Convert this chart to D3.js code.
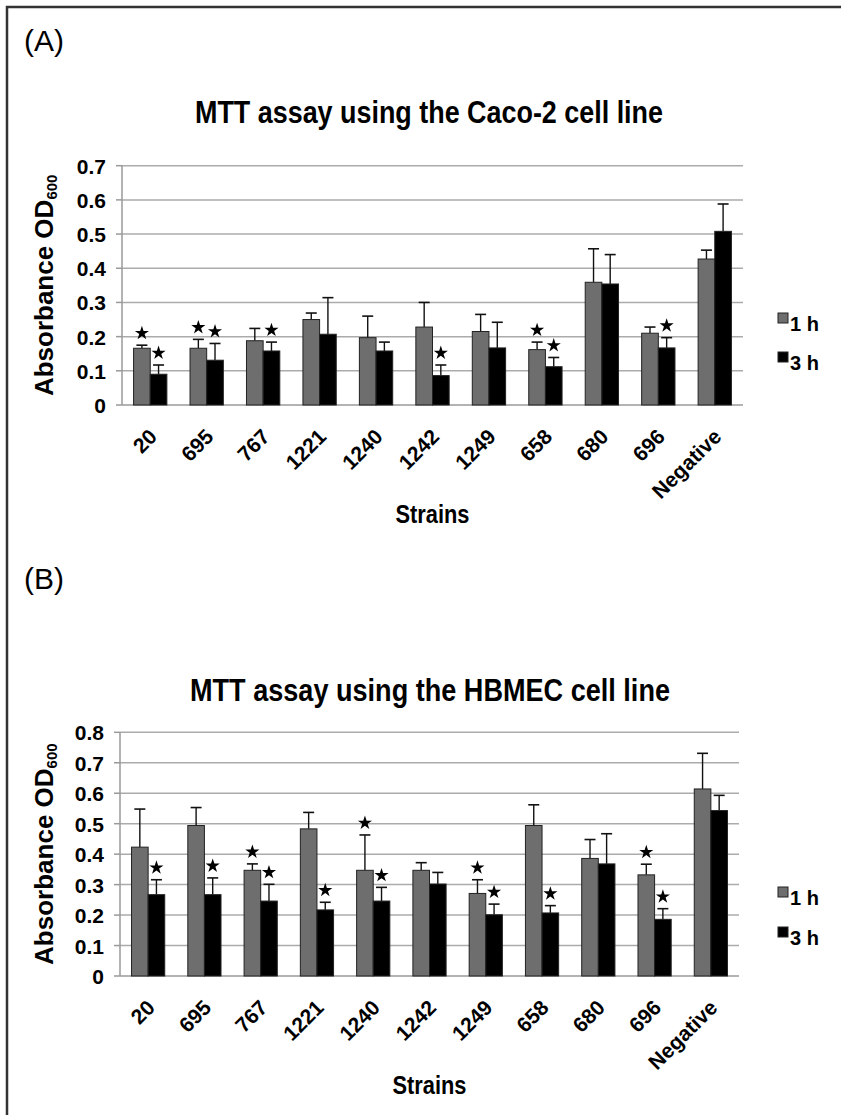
<!DOCTYPE html>
<html>
<head>
<meta charset="utf-8">
<script src="https://cdn.jsdelivr.net/npm/d3@7"></script>
<style>
  body { margin: 0; background: #fff; }
  svg { display: block; }
</style>
</head>
<body>
<svg id="figure" width="841" height="1115"></svg>
<script>
// strains on the x axis (same for both panels)
const strains = ['20', '695', '767', '1221', '1240', '1242', '1249', '658', '680', '696', 'Negative'];
const seriesNames = ['1 h', '3 h'];

// (A) Caco-2 : means and upper error (SD)
const caco1h = [0.166, 0.166, 0.188, 0.250, 0.197, 0.228, 0.215, 0.162, 0.359, 0.210, 0.427];
const caco1hErr = [0.009, 0.026, 0.036, 0.019, 0.063, 0.072, 0.050, 0.022, 0.098, 0.018, 0.026];
const caco3h = [0.090, 0.131, 0.158, 0.207, 0.158, 0.086, 0.167, 0.112, 0.354, 0.167, 0.508];
const caco3hErr = [0.027, 0.049, 0.026, 0.107, 0.026, 0.031, 0.075, 0.027, 0.086, 0.030, 0.080];
const caco1hStar = [1, 1, 0, 0, 0, 0, 0, 1, 0, 0, 0];
const caco3hStar = [1, 1, 1, 0, 0, 1, 0, 1, 0, 1, 0];
const cacoTicks = [0, 0.1, 0.2, 0.3, 0.4, 0.5, 0.6, 0.7];

// (B) HBMEC
const hbmec1h = [0.423, 0.494, 0.347, 0.483, 0.347, 0.347, 0.271, 0.494, 0.386, 0.332, 0.614];
const hbmec1hErr = [0.125, 0.059, 0.021, 0.054, 0.116, 0.025, 0.045, 0.068, 0.062, 0.035, 0.117];
const hbmec3h = [0.267, 0.267, 0.246, 0.217, 0.246, 0.302, 0.201, 0.207, 0.368, 0.186, 0.543];
const hbmec3hErr = [0.049, 0.055, 0.055, 0.025, 0.045, 0.038, 0.035, 0.024, 0.099, 0.035, 0.050];
const hbmec1hStar = [0, 0, 1, 0, 1, 0, 1, 0, 0, 1, 0];
const hbmec3hStar = [1, 1, 1, 1, 1, 0, 1, 1, 0, 1, 0];
const hbmecTicks = [0, 0.1, 0.2, 0.3, 0.4, 0.5, 0.6, 0.7, 0.8];

const FONT = "'Liberation Sans', Arial, Helvetica, sans-serif";
const colors = ['#6e6e6e', '#000000'];

class BarPanel {
  constructor(svg, box) {
    this.svg = svg;
    this.box = box;
    this.g = svg.append('g');

    this.x = d3.scaleBand()
      .domain(strains)
      .range([box.left, box.right])
      .paddingInner(0.41)
      .paddingOuter(0.205);

    this.xSub = d3.scaleBand()
      .domain(seriesNames)
      .range([0, this.x.bandwidth()]);

    this.y = d3.scaleLinear()
      .domain([0, d3.max(box.ticks)])
      .range([box.bottom, box.top]);
  }

  drawFrame() {
    const box = this.box;
    const fmt = (d) => (d === 0 ? '0' : d3.format('.1f')(d));

    this.g.selectAll('.grid')
      .data(box.ticks.filter((t) => t > 0))
      .join('line')
      .attr('x1', box.left)
      .attr('x2', box.right)
      .attr('y1', (d) => this.y(d))
      .attr('y2', (d) => this.y(d))
      .attr('stroke', '#ababab')
      .attr('stroke-width', 1.5);

    // left axis + outward ticks
    this.g.append('line')
      .attr('x1', box.left).attr('x2', box.left)
      .attr('y1', this.y(0)).attr('y2', this.y(d3.max(box.ticks)))
      .attr('stroke', '#9a9a9a')
      .attr('stroke-width', 1.5);

    this.g.selectAll('.ytick')
      .data(box.ticks)
      .join('line')
      .attr('x1', box.left - 6)
      .attr('x2', box.left)
      .attr('y1', (d) => this.y(d))
      .attr('y2', (d) => this.y(d))
      .attr('stroke', '#9a9a9a')
      .attr('stroke-width', 1.5);

    this.g.selectAll('.ylabel')
      .data(box.ticks)
      .join('text')
      .attr('x', box.left - 16)
      .attr('y', (d) => this.y(d) + 8)
      .attr('text-anchor', 'end')
      .attr('font-family', FONT)
      .attr('font-weight', 'bold')
      .attr('font-size', 21)
      .text(fmt);

    this.g.append('line')
      .attr('x1', box.left).attr('x2', box.right)
      .attr('y1', this.y(0)).attr('y2', this.y(0))
      .attr('stroke', '#9a9a9a')
      .attr('stroke-width', 1.5);

    // rotated strain labels
    this.g.selectAll('.xlabel')
      .data(strains)
      .join('text')
      .attr('transform', (d) => `translate(${this.x(d) + this.x.bandwidth() / 2 + 8},${this.y(0) + 33}) rotate(-45)`)
      .attr('text-anchor', 'end')
      .attr('font-family', FONT)
      .attr('font-weight', 'bold')
      .attr('font-size', 21)
      .text((d) => d);
  }

  drawBars(series) {
    // series: [{name, values, errors, stars}]
    const capW = 11;

    series.forEach((s, k) => {
      const rows = strains.map((name, i) => ({
        name, v: s.values[i], e: s.errors[i], star: s.stars[i],
      }));
      const xOf = (d) => this.x(d.name) + this.xSub(s.name);
      const w = this.xSub.bandwidth();
      const layer = this.g.append('g');

      // error bars first so the bar hides the lower half
      layer.selectAll('.err')
        .data(rows)
        .join('line')
        .attr('x1', (d) => xOf(d) + w / 2)
        .attr('x2', (d) => xOf(d) + w / 2)
        .attr('y1', (d) => this.y(d.v))
        .attr('y2', (d) => this.y(d.v + d.e))
        .attr('stroke', '#111')
        .attr('stroke-width', 1.4);

      layer.selectAll('.cap')
        .data(rows)
        .join('line')
        .attr('x1', (d) => xOf(d) + w / 2 - capW / 2)
        .attr('x2', (d) => xOf(d) + w / 2 + capW / 2)
        .attr('y1', (d) => this.y(d.v + d.e))
        .attr('y2', (d) => this.y(d.v + d.e))
        .attr('stroke', '#111')
        .attr('stroke-width', 1.6);

      layer.selectAll('rect')
        .data(rows)
        .join('rect')
        .attr('x', xOf)
        .attr('y', (d) => this.y(d.v))
        .attr('width', w)
        .attr('height', (d) => this.y(0) - this.y(d.v))
        .attr('fill', colors[k])
        .attr('stroke', '#222')
        .attr('stroke-width', 1);

      layer.selectAll('.star')
        .data(rows.filter((d) => d.star))
        .join('path')
        .attr('d', d3.symbol(d3.symbolStar, 62))
        .attr('transform', (d) => `translate(${xOf(d) + w / 2},${this.y(d.v + d.e) - 12})`)
        .attr('fill', '#000');
    });
  }

  drawText(titleText, titleWidth) {
    const box = this.box;
    const midX = (box.left + box.right) / 2;
    const midY = (box.top + box.bottom) / 2;

    this.svg.append('text')
      .attr('x', 24)
      .attr('y', box.tagY)
      .attr('font-family', FONT)
      .attr('font-size', 30)
      .text(box.tag);

    this.svg.append('text')
      .attr('x', box.titleX)
      .attr('y', box.titleY)
      .attr('text-anchor', 'middle')
      .attr('font-family', FONT)
      .attr('font-weight', 'bold')
      .attr('font-size', 31)
      .attr('textLength', titleWidth)
      .attr('lengthAdjust', 'spacingAndGlyphs')
      .text(titleText);

    const yTitle = this.svg.append('text')
      .attr('transform', `translate(53,${midY}) rotate(-90)`)
      .attr('text-anchor', 'middle')
      .attr('font-family', FONT)
      .attr('font-weight', 'bold')
      .attr('font-size', 26);
    yTitle.append('tspan').text('Absorbance OD');
    yTitle.append('tspan').attr('font-size', 15).attr('dy', 4).text('600');

    this.svg.append('text')
      .attr('x', midX)
      .attr('y', box.bottom + 118)
      .attr('text-anchor', 'middle')
      .attr('font-family', FONT)
      .attr('font-weight', 'bold')
      .attr('font-size', 25)
      .attr('textLength', 74)
      .attr('lengthAdjust', 'spacingAndGlyphs')
      .text('Strains');
  }

  drawLegend() {
    const box = this.box;
    seriesNames.forEach((name, k) => {
      const ly = box.legendY + k * box.legendGap;
      this.svg.append('rect')
        .attr('x', 778)
        .attr('y', ly)
        .attr('width', 10)
        .attr('height', 10)
        .attr('fill', colors[k])
        .attr('stroke', '#222')
        .attr('stroke-width', 1);
      this.svg.append('text')
        .attr('x', 790)
        .attr('y', ly + 18)
        .attr('font-family', FONT)
        .attr('font-weight', 'bold')
        .attr('font-size', 20)
        .text(name);
    });
  }
}

const svg = d3.select('#figure');

// outer frame (top and left edges only are visible)
svg.append('path')
  .attr('d', 'M7,1115 L7,7 L841,7')
  .attr('fill', 'none')
  .attr('stroke', '#333')
  .attr('stroke-width', 2.5);

const panelA = new BarPanel(svg, {
  left: 122, right: 743, top: 165.7, bottom: 405, ticks: cacoTicks,
  tag: '(A)', tagY: 51, titleX: 429, titleY: 123, legendY: 313, legendGap: 39,
});
panelA.drawFrame();
panelA.drawBars([
  { name: seriesNames[0], values: caco1h, errors: caco1hErr, stars: caco1hStar },
  { name: seriesNames[1], values: caco3h, errors: caco3hErr, stars: caco3hStar },
]);
panelA.drawText('MTT assay using the Caco-2 cell line', 468);
panelA.drawLegend();

const panelB = new BarPanel(svg, {
  left: 120, right: 739, top: 732.3, bottom: 976, ticks: hbmecTicks,
  tag: '(B)', tagY: 589, titleX: 430, titleY: 701, legendY: 887, legendGap: 40,
});
panelB.drawFrame();
panelB.drawBars([
  { name: seriesNames[0], values: hbmec1h, errors: hbmec1hErr, stars: hbmec1hStar },
  { name: seriesNames[1], values: hbmec3h, errors: hbmec3hErr, stars: hbmec3hStar },
]);
panelB.drawText('MTT assay using the HBMEC cell line', 480);
panelB.drawLegend();
</script>
</body>
</html>
